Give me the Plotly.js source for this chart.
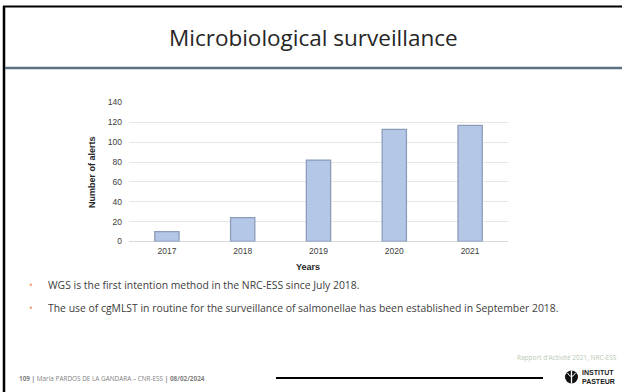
<!DOCTYPE html>
<html>
<head>
<meta charset="utf-8">
<script src="https://cdn.plot.ly/plotly-3.0.1.min.js"></script>
<style>
  html, body { margin: 0; padding: 0; background: #ffffff; }
  #slide { width: 622px; height: 392px; }
</style>
</head>
<body>
<div id="slide"></div>
<script>
// Yearly alert counts
const years = ['2017', '2018', '2019', '2020', '2021'];
const alerts = [10, 24, 82, 113, 117];
const yTickValues = [0, 20, 40, 60, 80, 100, 120, 140];

const slideTitle = 'Microbiological surveillance';
const bulletLines = [
  'WGS is the first intention method in the NRC-ESS since July 2018.',
  'The use of cgMLST in routine for the surveillance of salmonellae has been established in September 2018.'
];
const footerSource = "Rapport d'Activité 2021, NRC-ESS";
const footerLeft = '<b>109 |</b> Maria PARDOS DE LA GANDARA – CNR-ESS <b>| 08/02/2024</b>';

const W = 622, H = 392;
const px = x => x / W;
const py = y => 1 - y / H;

const narrow = 'Liberation Sans Narrow, Arial Narrow, Liberation Sans, Arial, sans-serif';
const gothic = 'Open Sans, Lato, DejaVu Sans, sans-serif';

const trace = {
  type: 'bar',
  x: years,
  y: alerts,
  marker: { color: '#b4c7e7', line: { color: '#8a9cb8', width: 1.3 } },
  hoverinfo: 'skip'
};

const annotations = [
  { text: slideTitle, x: px(313), y: py(38), xanchor: 'center', yanchor: 'middle',
    font: { family: gothic, size: 22.5, color: '#262626' } },
  { text: '<b>Number of alerts</b>', x: px(92), y: py(172), textangle: -90,
    xanchor: 'center', yanchor: 'middle', font: { family: narrow, size: 9, color: '#262626' } },
  { text: '<b>Years</b>', x: px(308), y: py(267), xanchor: 'center', yanchor: 'middle',
    font: { family: narrow, size: 9, color: '#262626' } },
  { text: footerSource, x: px(619), y: py(357), xanchor: 'right', yanchor: 'middle',
    font: { family: gothic, size: 6.5, color: '#b9c9b4' } },
  { text: footerLeft, x: px(17), y: py(378), xanchor: 'left', yanchor: 'middle',
    font: { family: gothic, size: 6.4, color: '#7f7f7f' } },
  { text: '<b>INSTITUT<br>PASTEUR</b>', x: px(580), y: py(377), xanchor: 'left', yanchor: 'middle',
    align: 'left', font: { family: 'Liberation Sans, Arial, sans-serif', size: 7, color: '#1a1a1a' } }
];

bulletLines.forEach((line, i) => {
  const yLine = 285 + i * 23;
  annotations.push({ text: '•', x: px(31), y: py(yLine), xanchor: 'center', yanchor: 'middle',
    font: { family: gothic, size: 10, color: '#ec9a62' } });
  annotations.push({ text: line, x: px(46), y: py(yLine), xanchor: 'left', yanchor: 'middle',
    font: { family: gothic, size: 10.4, color: '#404040' } });
});

const shapes = [
  // slide frame
  { type: 'line', xref: 'paper', yref: 'paper', x0: px(4), x1: px(4), y0: py(6), y1: py(392),
    line: { color: '#000000', width: 2.5 } },
  { type: 'line', xref: 'paper', yref: 'paper', x0: px(3), x1: px(622), y0: py(6.5), y1: py(6.5),
    line: { color: '#000000', width: 2 } },
  // title separator
  { type: 'line', xref: 'paper', yref: 'paper', x0: px(5), x1: px(622), y0: py(68), y1: py(68),
    line: { color: '#5d7181', width: 2.5 } },
  // footer rule
  { type: 'line', xref: 'paper', yref: 'paper', x0: px(276), x1: px(543), y0: py(378), y1: py(378),
    line: { color: '#000000', width: 2 } },
  // logo emblem
  { type: 'circle', xref: 'paper', yref: 'paper', x0: px(565), x1: px(578), y0: py(383.5), y1: py(370.5),
    fillcolor: '#111111', line: { width: 0 } },
  { type: 'path', xref: 'paper', yref: 'paper',
    path: `M ${px(571.5)} ${py(370.5)} L ${px(571.5)} ${py(383.5)}`,
    line: { color: '#ffffff', width: 1.3 } },
  { type: 'path', xref: 'paper', yref: 'paper',
    path: `M ${px(567.5)} ${py(373)} Q ${px(571.5)} ${py(380)} ${px(575.5)} ${py(373)}`,
    line: { color: '#ffffff', width: 1 } }
];

const layout = {
  width: W, height: H,
  margin: { l: 0, r: 0, t: 0, b: 0 },
  paper_bgcolor: '#ffffff', plot_bgcolor: '#ffffff',
  showlegend: false,
  bargap: 0.68,
  xaxis: {
    domain: [px(129), px(508)],
    anchor: 'y',
    type: 'category',
    showgrid: false, showline: false, ticks: '',
    ticklabelstandoff: 3,
    tickfont: { family: narrow, size: 8.5, color: '#404040' },
    fixedrange: true
  },
  yaxis: {
    domain: [py(241.5), py(102.5)],
    anchor: 'x',
    range: [0, 140],
    tickvals: yTickValues,
    ticktext: yTickValues.map(String),
    showgrid: true, gridcolor: '#e6e6e6', gridwidth: 1,
    zeroline: true, zerolinecolor: '#d9d9d9', zerolinewidth: 1,
    showline: false, ticks: '',
    ticklabelstandoff: 6,
    tickfont: { family: narrow, size: 8.5, color: '#404040' },
    fixedrange: true
  },
  annotations: annotations.map(a => Object.assign({ xref: 'paper', yref: 'paper', showarrow: false }, a)),
  shapes: shapes
};

Plotly.newPlot('slide', [trace], layout, { staticPlot: true, displayModeBar: false });
</script>
</body>
</html>
